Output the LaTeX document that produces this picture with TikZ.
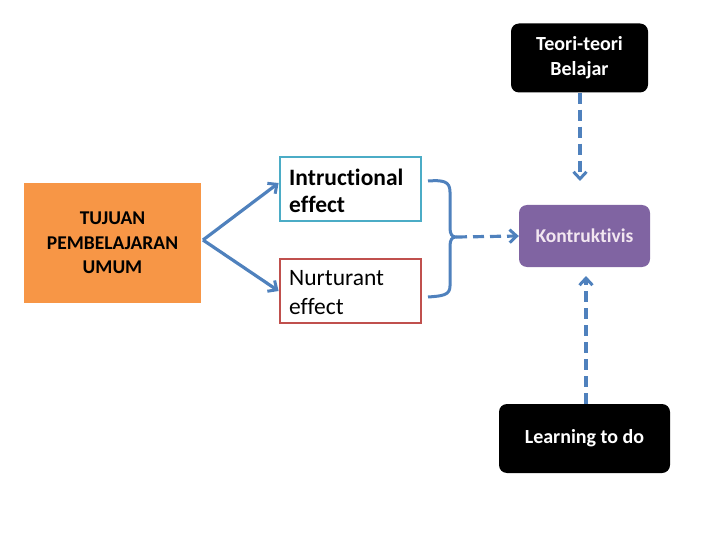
\documentclass[tikz,border=0pt]{standalone}
\usepackage{fontspec}
\setmainfont{Carlito}[Ligatures=NoCommon]
\usetikzlibrary{arrows.meta}
\definecolor{lineblue}{HTML}{4F81BD}
\definecolor{orangefill}{HTML}{F79646}
\definecolor{tealline}{HTML}{4BACC6}
\definecolor{redline}{HTML}{C0504D}
\definecolor{purplefill}{HTML}{8064A2}
\definecolor{pinktext}{HTML}{F2E6F0}
\begin{document}
\begin{tikzpicture}[x=1pt,y=-1pt,
  conn/.style={draw=lineblue,line width=3.2pt,-{Straight Barb[length=7pt,width=13pt,line width=3pt]}},
  dconn/.style={conn,dash pattern=on 11pt off 6pt},
  darkbox/.style={fill=black,rounded corners=8pt,text=white,font=\fontsize{20}{25}\selectfont\bfseries,align=center,inner sep=0pt},
  effbox/.style={draw,line width=2.8pt,fill=white,minimum width=141pt,minimum height=64pt,inner sep=0pt}]
\useasboundingbox (0,0) rectangle (720,540);
\node[fill=orangefill,minimum width=177pt,minimum height=119pt,inner sep=0pt,font=\fontsize{19.5}{24.5}\selectfont\bfseries,align=center] (tujuan) at (112.5,243) {TUJUAN\\PEMBELAJARAN\\UMUM};
\node[effbox,draw=tealline] (instr) at (350.5,189) {};
\node[anchor=north west,inner sep=0pt,font=\fontsize{23.5}{27}\selectfont\bfseries,align=left] (instrt) at (289,169) {Intructional\\effect};
\node[effbox,draw=redline] (nurt) at (350.5,291) {};
\node[anchor=north west,inner sep=0pt,font=\fontsize{23.5}{29}\selectfont,align=left] (nurtt) at (289,270) {Nurturant\\effect};
\node[fill=purplefill,rounded corners=8pt,minimum width=131pt,minimum height=62pt,inner sep=0pt,text=pinktext,font=\fontsize{19.5}{22}\selectfont\bfseries] (konst) at (584.5,236) {Kontruktivis};
\node[darkbox,minimum width=137pt,minimum height=69pt] (teori) at (579.5,58) {Teori-teori\\Belajar};
\node[darkbox,minimum width=171pt,minimum height=69pt] (learn) at (584.5,438.5) {Learning to do};
\coordinate (split) at (203,240);
\draw[conn] (split) -- (instr.west |- 0,183) ;
\draw[conn] (split) -- (nurt.west |- 0,291);
\coordinate (btop) at (428,181);
\coordinate (bbot) at (428,297);
\coordinate (btip) at (456,237);
\draw[lineblue,line width=3pt,line join=round] (btop) .. controls (443,180) and (450,181) .. (450,192) -- (450,228) .. controls (450,234) and (452,237) .. (btip) .. controls (452,237) and (450,240) .. (450,246) -- (450,286) .. controls (450,295) and (443,296) .. (bbot);
\draw[dconn] (btip) -- (konst.west);
\draw[dconn] (teori.south -| 580,0) -- (580,181);
\draw[dconn] (learn.north -| 586,0) -- (586,276);
\end{tikzpicture}
\end{document}
